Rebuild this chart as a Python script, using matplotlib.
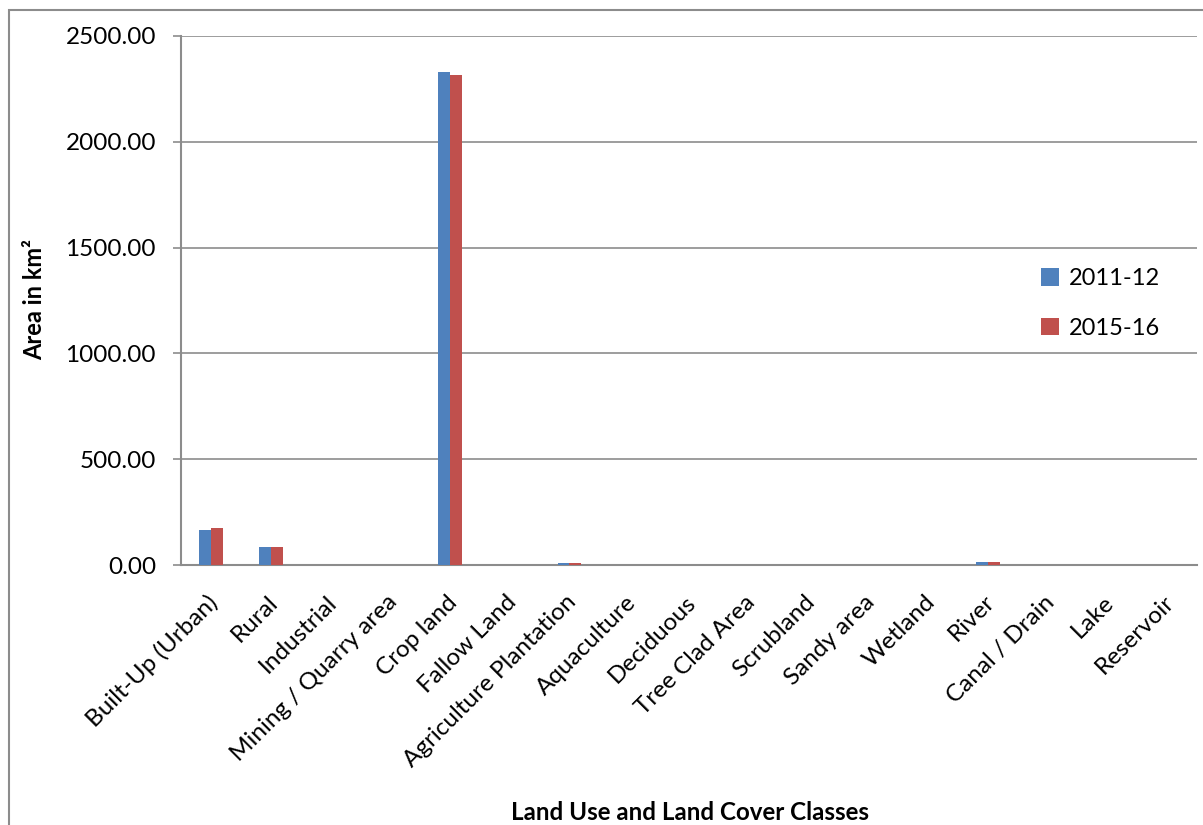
import matplotlib
matplotlib.use("Agg")
import matplotlib.pyplot as plt
import numpy as np
from matplotlib.patches import Rectangle
from matplotlib.transforms import ScaledTranslation

categories = ["Built-Up (Urban)", "Rural", "Industrial", "Mining / Quarry area", "Crop land",
              "Fallow Land", "Agriculture Plantation", "Aquaculture", "Deciduous", "Tree Clad Area",
              "Scrubland", "Sandy area", "Wetland", "River", "Canal / Drain", "Lake", "Reservoir"]
series_2011 = [165, 84, 1, 1, 2330, 2, 8, 0.5, 0.3, 0.3, 0.5, 0.5, 0.3, 15, 1, 0.5, 0.5]
series_2015 = [175, 87, 1, 1, 2316, 1.5, 9, 0.5, 0.3, 0.3, 0.5, 0.5, 0.3, 16, 1, 0.5, 0.5]
series_names = ["2011-12", "2015-16"]
yticks = [0, 500, 1000, 1500, 2000, 2500]

plt.rcParams['font.family'] = ['Lato', 'DejaVu Sans']

fig = plt.figure(figsize=(12.03, 8.25), dpi=100)
ax = fig.add_axes([181/1203, 1-565/825, (1197-181)/1203, (565-36)/825])

x = np.arange(len(categories))
w = 0.2
ax.bar(x - w/2, series_2011, w, color="#4F81BD", label=series_names[0], zorder=3)
ax.bar(x + w/2, series_2015, w, color="#C0504D", label=series_names[1], zorder=3)

ax.set_xlim(-0.5, len(categories) - 0.5)
ax.set_ylim(0, 2500)
ax.set_yticks(yticks)
ax.set_yticklabels([f"{v:.2f}" for v in yticks], fontsize=17.5)
ax.yaxis.grid(True, color="#8C8C8C", linewidth=1.2, zorder=0)
ax.tick_params(axis='y', length=6, color="#8C8C8C", width=1.2, pad=12)
ax.tick_params(axis='x', length=0, pad=19)
ax.set_xticks(x)
ax.set_xticklabels(categories, rotation=45, ha='right', va='top', rotation_mode='anchor', fontsize=17.5)
off = ScaledTranslation(-4/100, 0, fig.dpi_scale_trans)
for lab in ax.get_xticklabels():
    lab.set_transform(lab.get_transform() + off)
for s in ['top', 'right']:
    ax.spines[s].set_visible(False)
for s in ['left', 'bottom']:
    ax.spines[s].set_color("#8C8C8C")
    ax.spines[s].set_linewidth(1.5)

fig.text(35/1203, 1-300/825, "Area in km²", rotation=90, ha='center', va='center',
         fontsize=17, fontweight='bold')
fig.text(690/1203, 1-812/825, "Land Use and Land Cover Classes", ha='center', va='center',
         fontsize=17.4, fontweight='bold')

fig.legend(loc='upper left', bbox_to_anchor=(1020/1203, 1-247/825), frameon=False,
           fontsize=17, handlelength=0.75, handleheight=0.75, labelspacing=1.2, handletextpad=0.4)

fig.patches.append(Rectangle((9/1203, -0.1), 1.2, 1.1 - 10/825, transform=fig.transFigure,
                             fill=False, edgecolor="#8C8C8C", linewidth=1.5))

fig.savefig("out.png", dpi=100)
